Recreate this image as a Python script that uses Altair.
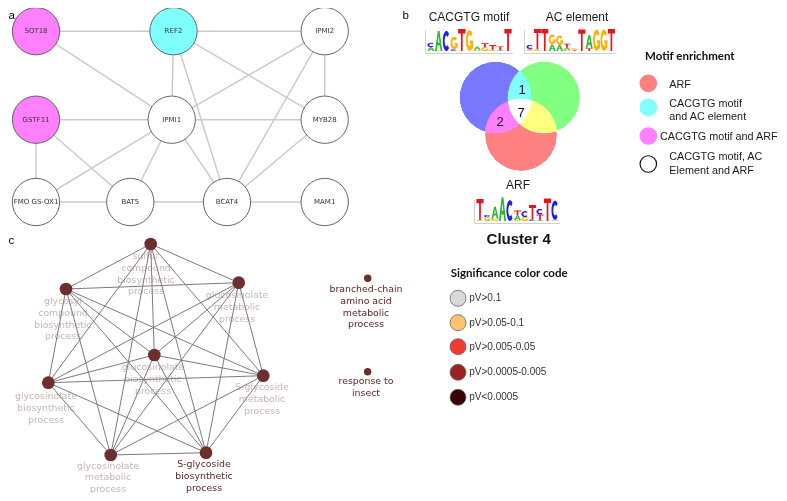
import math
import itertools
import altair as alt
import pandas as pd

# ---------------- panel a : gene network ----------------
a_genes = ["SOT18", "REF2", "IPMI2", "GSTF11", "IPMI1", "MYB28",
           "FMO GS-OX1", "BAT5", "BCAT4", "MAM1"]
a_layout_x = [36, 173.5, 324.7, 36, 171.7, 324.7, 36, 130.3, 227, 324.7]
a_layout_y = [31.2, 31.2, 31.2, 119.7, 119.7, 119.7, 202, 202, 202, 202]
a_enrichment = ["CACGTG motif and ARF", "CACGTG motif and AC element",
                "CACGTG motif, AC Element and ARF", "CACGTG motif and ARF",
                "CACGTG motif, AC Element and ARF", "CACGTG motif, AC Element and ARF",
                "CACGTG motif, AC Element and ARF", "CACGTG motif, AC Element and ARF",
                "CACGTG motif, AC Element and ARF", "CACGTG motif, AC Element and ARF"]
a_edges = [("SOT18", "REF2"), ("REF2", "IPMI2"), ("SOT18", "IPMI1"), ("REF2", "IPMI1"),
           ("REF2", "BCAT4"), ("REF2", "MYB28"), ("IPMI2", "IPMI1"), ("IPMI2", "MYB28"),
           ("IPMI2", "BCAT4"), ("GSTF11", "IPMI1"), ("IPMI1", "MYB28"),
           ("GSTF11", "FMO GS-OX1"), ("GSTF11", "BAT5"), ("IPMI1", "FMO GS-OX1"),
           ("IPMI1", "BAT5"), ("IPMI1", "BCAT4"), ("MYB28", "BCAT4"),
           ("FMO GS-OX1", "BAT5"), ("BAT5", "BCAT4"), ("BCAT4", "MAM1")]

# ---------------- panel b : Venn + legend ----------------
enrich_cats = ["ARF", "CACGTG motif\nand AC element", "CACGTG motif and ARF",
               "CACGTG motif, AC\nElement and ARF"]
enrich_keys = ["ARF", "CACGTG motif and AC element", "CACGTG motif and ARF",
               "CACGTG motif, AC Element and ARF"]
enrich_colors = ["#ff8080", "#80ffff", "#ff80ff", "#ffffff"]
enrich_layout_y = [83.3, 107.3, 136, 164]

venn_sets = ["CACGTG motif", "AC element", "ARF"]
venn_colors = ["#7878ff", "#80ff80", "#ff8080"]
venn_layout_x = [495.5, 544, 521]
venn_layout_y = [97.5, 97.5, 135]
venn_counts = ["1", "7", "2"]
venn_count_x = [522, 521, 500]
venn_count_y = [90, 113, 122]

# sequence logos: per column, letters stacked bottom-up with information (bits)
logo_cacgtg = [[("A", 0.35), ("C", 0.4)], [("A", 1.82)], [("C", 1.82)],
               [("C", 0.15), ("G", 1.15)], [("T", 2.0)], [("G", 1.9)],
               [("G", 0.12), ("A", 0.3)], [("G", 0.35), ("T", 0.35)],
               [("G", 0.1), ("T", 0.45)], [("A", 0.1), ("T", 0.32)], [("T", 2.0)]]
logo_ac = [[("G", 0.12), ("T", 0.08), ("C", 0.35)], [("G", 0.15), ("T", 1.85)],
           [("T", 2.0)], [("A", 0.6), ("G", 0.9)], [("A", 0.55), ("G", 0.85)],
           [("G", 0.1), ("A", 0.2), ("T", 0.35)], [("T", 0.1), ("G", 0.15)],
           [("T", 1.95)], [("T", 0.25), ("A", 1.2)], [("G", 1.95)], [("G", 1.95)],
           [("T", 2.0)]]
logo_arf = [[("G", 0.1), ("T", 1.9)], [("A", 0.1), ("G", 0.25), ("C", 0.2)],
            [("G", 0.2), ("A", 1.1)], [("A", 2.15)], [("C", 1.9)],
            [("G", 0.1), ("A", 0.4), ("T", 0.45)], [("G", 0.35), ("C", 0.55)],
            [("C", 0.15), ("T", 1.3)], [("A", 0.1), ("T", 0.5), ("C", 0.5)],
            [("T", 2.05)], [("G", 0.1), ("C", 1.75)]]
logos = [logo_cacgtg, logo_ac, logo_arf]
logo_layout_left = [431, 530, 480]
logo_layout_step = [7.7, 7.4, 7.5]
logo_layout_base = [51, 51, 221]
letter_colors = {"A": "#2db82d", "C": "#1f1fe6", "G": "#ffb000", "T": "#e8141c"}

# ---------------- panel c : GO term network ----------------
go_terms = ["sulfur\ncompound\nbiosynthetic\nprocess",
            "glycosyl\ncompound\nbiosynthetic\nprocess",
            "glucosinolate\nmetabolic\nprocess",
            "glucosinolate\nbiosynthetic\nprocess",
            "glycosinolate\nbiosynthetic\nprocess",
            "S-glycoside\nmetabolic\nprocess",
            "glycosinolate\nmetabolic\nprocess",
            "S-glycoside\nbiosynthetic\nprocess",
            "branched-chain\namino acid\nmetabolic\nprocess",
            "response to\ninsect"]
go_connected = [True, True, True, True, True, True, True, True, False, False]
go_dark_label = [False, False, False, False, False, False, False, True, True, True]
go_layout_x = [150.7, 66, 238.7, 154.3, 48.3, 263.3, 110.7, 206, 367.7, 367.7]
go_layout_y = [244, 289, 282.7, 355, 382.7, 375.7, 455, 452.7, 278.3, 371.7]
go_label_x = [146, 63, 237, 153, 46, 262, 108, 204, 366, 366]
go_label_y = [257, 302, 296, 368, 397, 388, 466.5, 465, 290, 382]

sig_cats = ["pV>0.1", "pV>0.05-0.1", "pV>0.005-0.05", "pV>0.0005-0.005", "pV<0.0005"]
sig_colors = ["#d9d9d9", "#fec36b", "#ef3b33", "#9b2220", "#360404"]
sig_layout_y = [298.3, 322.7, 346.7, 372.3, 397.3]

# ---------------- helpers ----------------
XS = alt.Scale(domain=[8, 779], nice=False, zero=False)
YS = alt.Scale(domain=[8, 493], nice=False, zero=False, reverse=True)


def X(f="x"):
    return alt.X(f"{f}:Q", scale=XS, axis=None)


def Y(f="y"):
    return alt.Y(f"{f}:Q", scale=YS, axis=None)


def text_layer(df, font, size, color, align="center", baseline="middle",
               weight="normal", line_height=None):
    kw = dict(font=font, fontSize=size, color=color, align=align,
              baseline=baseline, fontWeight=weight, lineBreak="\n")
    if line_height:
        kw["lineHeight"] = line_height
    return alt.Chart(df).mark_text(**kw).encode(x=X(), y=Y(), text="label:N")


def edge_frame(edges, pos):
    rows = []
    for s, t in edges:
        rows.append({"x": pos[s][0], "y": pos[s][1], "x2": pos[t][0], "y2": pos[t][1]})
    return pd.DataFrame(rows)


def poly(pts, w, h):
    return "M" + "L".join(f"{(px - 0.5) * w:.3f},{-py * h:.3f}" for px, py in pts) + "Z"


def glyph(letter, w, h):
    if letter == "T":
        pts = [(0.38, 0), (0.62, 0), (0.62, 0.8), (1, 0.8), (1, 1), (0, 1), (0, 0.8), (0.38, 0.8)]
        return poly(pts, w, h)
    if letter == "A":
        outer = [(0, 0), (0.25, 0), (0.33, 0.27), (0.67, 0.27), (0.75, 0), (1, 0),
                 (0.62, 1), (0.38, 1)]
        hole = [(0.39, 0.43), (0.5, 0.76), (0.61, 0.43)]
        return poly(outer, w, h) + poly(hole, w, h)
    a0, a1 = (45, 315) if letter == "C" else (40, 340)
    n = 20
    angs = [math.radians(a0 + (a1 - a0) * i / n) for i in range(n + 1)]
    outer = [(0.5 + 0.5 * math.cos(t), 0.5 + 0.5 * math.sin(t)) for t in angs]
    inner = [(0.5 + 0.24 * math.cos(t), 0.5 + 0.27 * math.sin(t)) for t in reversed(angs)]
    path = poly(outer + inner, w, h)
    if letter == "G":
        path += poly([(0.55, 0.36), (0.98, 0.36), (0.98, 0.5), (0.55, 0.5)], w, h)
        path += poly([(0.76, 0.12), (0.98, 0.12), (0.98, 0.5), (0.76, 0.5)], w, h)
    return path


PX_PER_BIT = 11.0
LOGO_SIZE = (2 * PX_PER_BIT) ** 2

layers = []

# ---- panel a ----
a_pos = {g: (x, y) for g, x, y in zip(a_genes, a_layout_x, a_layout_y)}
layers.append(alt.Chart(edge_frame(a_edges, a_pos)).mark_rule(
    color="#cbcbcb", strokeWidth=1.5).encode(x=X(), y=Y(), x2="x2:Q", y2="y2:Q"))
fill_of = dict(zip(enrich_keys, enrich_colors))
a_nodes = pd.DataFrame({"x": a_layout_x, "y": a_layout_y, "label": a_genes,
                        "fill": [fill_of[e] for e in a_enrichment]})
layers.append(alt.Chart(a_nodes).mark_point(
    shape="circle", filled=True, size=2240, opacity=1, stroke="#555555",
    strokeWidth=0.9).encode(x=X(), y=Y(), fill=alt.Fill("fill:N", scale=None)))
layers.append(text_layer(a_nodes, "DejaVu Sans", 7, "#333333"))

# ---- panel b : Venn (lighten blending over black discs gives the overlap colours) ----
venn = pd.DataFrame({"x": venn_layout_x, "y": venn_layout_y, "set": venn_sets,
                     "fill": venn_colors})
layers.append(alt.Chart(venn).mark_circle(color="#000000", size=71 ** 2, opacity=1)
              .encode(x=X(), y=Y()))
layers.append(alt.Chart(venn).mark_circle(size=72.6 ** 2, opacity=1, blend="lighten")
              .encode(x=X(), y=Y(), color=alt.Color("fill:N", scale=None)))
layers.append(text_layer(pd.DataFrame({"x": venn_count_x, "y": venn_count_y,
                                       "label": venn_counts}),
                         "Liberation Sans", 13, "#111111"))

# ---- logos ----
rows, axis_rows = [], []
for cols, left, step, base in zip(logos, logo_layout_left, logo_layout_step, logo_layout_base):
    w = step * 0.95 / PX_PER_BIT
    for ci, stack in enumerate(cols):
        acc = 0.0
        for letter, bits in stack:
            rows.append({"x": left + ci * step, "y": base - acc * PX_PER_BIT,
                         "path": glyph(letter, w, bits), "fill": letter_colors[letter]})
            acc += bits
    right = left + (len(cols) - 1) * step
    axis_rows.append({"x": left - 5, "y": base + 2.5, "x2": right + 5, "y2": base + 2.5})
    axis_rows.append({"x": left - 5.5, "y": base + 2.5, "x2": left - 5.5, "y2": base - 21})
layers.append(alt.Chart(pd.DataFrame(axis_rows)).mark_rule(
    color="#b0b0b0", strokeWidth=0.6).encode(x=X(), y=Y(), x2="x2:Q", y2="y2:Q"))
layers.append(alt.Chart(pd.DataFrame(rows)).mark_point(
    filled=True, size=LOGO_SIZE, opacity=1, strokeWidth=0).encode(
    x=X(), y=Y(), shape=alt.Shape("path:N", scale=None),
    fill=alt.Fill("fill:N", scale=None)))

titles = pd.DataFrame({"x": [469, 577, 518], "y": [17, 17, 185],
                       "label": ["CACGTG motif", "AC element", "ARF"]})
layers.append(text_layer(titles, "Liberation Sans", 12, "#1a1a1a"))
layers.append(text_layer(pd.DataFrame({"x": [518.7], "y": [239], "label": ["Cluster 4"]}),
                         "Liberation Sans", 15, "#111111", weight="bold"))

# ---- legend b ----
leg_b = pd.DataFrame({"x": [648.3] * 4, "y": enrich_layout_y, "fill": enrich_colors,
                      "stroke": enrich_colors[:3] + ["#111111"]})
layers.append(alt.Chart(leg_b).mark_point(shape="circle", filled=True, size=272,
                                          opacity=1, strokeWidth=1.2).encode(
    x=X(), y=Y(), fill=alt.Fill("fill:N", scale=None),
    stroke=alt.Stroke("stroke:N", scale=None)))
leg_b_lab = pd.DataFrame({"x": [669.3, 669.3, 660, 669.3],
                          "y": [83.3 - 4.6, 102.3 - 4.6, 136 - 4.6, 155.7 - 4.6],
                          "label": enrich_cats})
layers.append(text_layer(leg_b_lab, "Liberation Sans", 10.8, "#1a1a1a", align="left",
                         baseline="top", line_height=13.5))
leg_titles = pd.DataFrame({"x": [645, 450.7], "y": [57, 274],
                           "label": ["Motif enrichment", "Significance color code"]})
layers.append(text_layer(leg_titles, "Lato", 11.5, "#111111", align="left", weight="bold"))

# ---- panel c ----
go = pd.DataFrame({"x": go_layout_x, "y": go_layout_y, "lx": go_label_x,
                   "ly": [v - 5 for v in go_label_y], "label": go_terms,
                   "dark": go_dark_label})
for dark, col in [(False, "#c7b5b5"), (True, "#5c2626")]:
    sub = go[go["dark"] == dark]
    layers.append(alt.Chart(sub).mark_text(
        font="DejaVu Sans", fontSize=9.4, color=col, align="center", baseline="top",
        lineBreak="\n", lineHeight=11.8).encode(x=X("lx"), y=Y("ly"), text="label:N"))
go_pos = {t: (x, y) for t, x, y in zip(go_terms, go_layout_x, go_layout_y)}
connected = [t for t, c in zip(go_terms, go_connected) if c]
layers.append(alt.Chart(edge_frame(list(itertools.combinations(connected, 2)), go_pos))
              .mark_rule(color="#7b7b7b", strokeWidth=1).encode(
    x=X(), y=Y(), x2="x2:Q", y2="y2:Q"))
go["size"] = [161 if c else 56 for c in go_connected]
layers.append(alt.Chart(go).mark_circle(color="#6d2e2e", opacity=1).encode(
    x=X(), y=Y(), size=alt.Size("size:Q", scale=None)))

# ---- legend c ----
leg_c = pd.DataFrame({"x": [458] * 5, "y": sig_layout_y, "fill": sig_colors,
                      "lx": [469.3] * 5, "label": sig_cats})
layers.append(alt.Chart(leg_c).mark_point(shape="circle", filled=True, size=256,
                                          opacity=1, stroke="#666666",
                                          strokeWidth=0.8).encode(
    x=X(), y=Y(), fill=alt.Fill("fill:N", scale=None)))
layers.append(alt.Chart(leg_c).mark_text(font="Liberation Sans", fontSize=10,
                                         color="#333333", align="left",
                                         baseline="middle").encode(
    x=X("lx"), y=Y(), text="label:N"))

# ---- panel letters ----
letters = pd.DataFrame({"x": [8.6, 402.5, 8.6], "y": [18.5, 18.5, 243.5],
                        "label": ["a", "b", "c"]})
layers.append(text_layer(letters, "Liberation Sans", 11.5, "#000000", align="left",
                         baseline="alphabetic"))

chart = alt.layer(*layers).properties(
    width=771, height=485, padding=0, background="white",
    autosize=alt.AutoSizeParams(type="none"),
).configure_view(stroke=None)

chart.save("out.html", embed_options={"renderer": "svg", "actions": False})
